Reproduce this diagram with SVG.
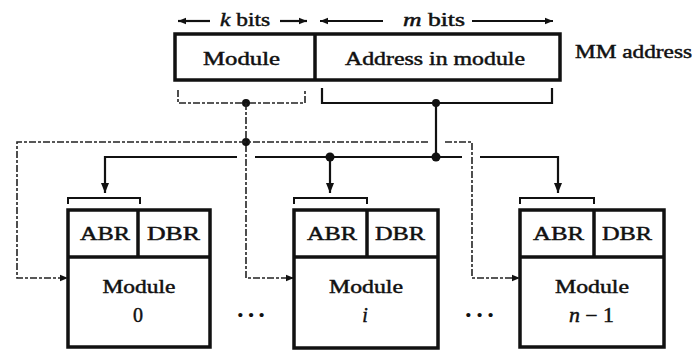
<svg xmlns="http://www.w3.org/2000/svg" width="697" height="354" viewBox="0 0 697 354">
<style>
text{font-family:"Liberation Serif","Times New Roman",serif;fill:#111}
.t{font-size:18px;stroke:#111;stroke-width:0.45}
.n{font-size:20px}
.box{fill:#fff;stroke:#111;stroke-width:3.5}
.div{stroke:#111;stroke-width:3.5;fill:none}
.sol{stroke:#111;stroke-width:2.2;fill:none}
.dash{stroke:#222;stroke-width:1.6;fill:none;stroke-dasharray:7 2 3 2}
.brk{stroke:#111;stroke-width:2;fill:none}
.dot{fill:#111}
.ell{font-size:26px;font-weight:bold}
</style>
<defs>
<marker id="ah" viewBox="0 0 10 10" refX="10" refY="5" markerWidth="10" markerHeight="10" markerUnits="userSpaceOnUse" orient="auto">
<path d="M0,1 L10,5 L0,9 Z" fill="#111"/>
</marker>
<marker id="ahs" viewBox="0 0 10 10" refX="10" refY="5" markerWidth="9" markerHeight="8" markerUnits="userSpaceOnUse" orient="auto">
<path d="M0,1 L10,5 L0,9 Z" fill="#111"/>
</marker>
</defs>

<g id="field-widths">
<line class="sol" x1="210" y1="21" x2="178" y2="21" marker-end="url(#ahs)"/>
<text class="t" x="220" y="26" textLength="50" lengthAdjust="spacingAndGlyphs"><tspan font-style="italic">k</tspan> bits</text>
<line class="sol" x1="280" y1="21" x2="307" y2="21" marker-end="url(#ahs)"/>
<line class="sol" x1="383" y1="21" x2="320" y2="21" marker-end="url(#ahs)"/>
<text class="t" x="403" y="26" textLength="62" lengthAdjust="spacingAndGlyphs"><tspan font-style="italic">m</tspan> bits</text>
<line class="sol" x1="472" y1="21" x2="553" y2="21" marker-end="url(#ahs)"/>
</g>

<g id="mm-address">
<rect class="box" x="175" y="34" width="385" height="46" stroke-width="3"/>
<line class="div" x1="315" y1="34" x2="315" y2="80" stroke-width="3"/>
<text class="t" x="203" y="65" textLength="77" lengthAdjust="spacingAndGlyphs">Module</text>
<text class="t" x="345" y="65" textLength="180" lengthAdjust="spacingAndGlyphs">Address in module</text>
<text class="t" x="575" y="58" font-size="16" textLength="117" lengthAdjust="spacingAndGlyphs">MM address</text>
</g>

<g id="connectors">
<path class="dash" d="M178,90 V103 H305 V90"/>
<path class="sol" d="M322,88 V103 H552 V88"/>
<circle class="dot" cx="246" cy="103" r="4"/>
<circle class="dot" cx="436" cy="103" r="4"/>
<path class="dash" d="M246,103 V278 H294" marker-end="url(#ahs)"/>
<circle class="dot" cx="246" cy="142" r="4"/>
<path class="dash" d="M428,142 H17 V278 H68" marker-end="url(#ahs)"/>
<path class="dash" d="M445,142 H472 V278 H520" marker-end="url(#ahs)"/>
<line class="sol" x1="436" y1="103" x2="436" y2="157"/>
<circle class="dot" cx="436" cy="157" r="4.5"/>
<path class="sol" d="M237,157 H105 V193" marker-end="url(#ah)"/>
<path class="sol" d="M255,157 H462"/>
<path class="sol" d="M330,157 V193" marker-end="url(#ah)"/>
<circle class="dot" cx="330" cy="157" r="4.5"/>
<path class="sol" d="M480,157 H558 V193" marker-end="url(#ah)"/>
<path class="brk" d="M68,204 V198 H140 V204"/>
<path class="brk" d="M294,204 V198 H367 V204"/>
<path class="brk" d="M520,204 V198 H594 V204"/>
</g>

<g id="module-0">
<rect class="box" x="68" y="210" width="142" height="137"/>
<line class="div" x1="68" y1="257" x2="210" y2="257"/>
<line class="div" x1="138" y1="210" x2="138" y2="257"/>
<text class="t" x="80" y="240" textLength="50" lengthAdjust="spacingAndGlyphs">ABR</text>
<text class="t" x="147" y="240" textLength="53" lengthAdjust="spacingAndGlyphs">DBR</text>
<text class="t" x="139" y="293" text-anchor="middle" textLength="73" lengthAdjust="spacingAndGlyphs">Module</text>
<text class="t n" x="138" y="322" text-anchor="middle">0</text>
</g>

<g id="module-i">
<rect class="box" x="294" y="210" width="144" height="138"/>
<line class="div" x1="294" y1="257" x2="438" y2="257"/>
<line class="div" x1="367" y1="210" x2="367" y2="257"/>
<text class="t" x="307" y="240" textLength="50" lengthAdjust="spacingAndGlyphs">ABR</text>
<text class="t" x="375" y="240" textLength="50" lengthAdjust="spacingAndGlyphs">DBR</text>
<text class="t" x="366" y="293" text-anchor="middle" textLength="74" lengthAdjust="spacingAndGlyphs">Module</text>
<text class="t n" x="365" y="322" text-anchor="middle" font-style="italic">i</text>
</g>

<g id="module-n-1">
<rect class="box" x="520" y="210" width="144" height="137"/>
<line class="div" x1="520" y1="257" x2="664" y2="257"/>
<line class="div" x1="594" y1="210" x2="594" y2="257"/>
<text class="t" x="533" y="240" textLength="51" lengthAdjust="spacingAndGlyphs">ABR</text>
<text class="t" x="602" y="240" textLength="50" lengthAdjust="spacingAndGlyphs">DBR</text>
<text class="t" x="592" y="293" text-anchor="middle" textLength="74" lengthAdjust="spacingAndGlyphs">Module</text>
<text class="t n" x="569" y="322" textLength="45" lengthAdjust="spacingAndGlyphs"><tspan font-style="italic">n</tspan> − 1</text>
</g>

<g id="ellipses">
<text class="ell" x="236" y="323" textLength="30" lengthAdjust="spacing">···</text>
<text class="ell" x="464" y="323" textLength="31" lengthAdjust="spacing">···</text>
</g>
</svg>
